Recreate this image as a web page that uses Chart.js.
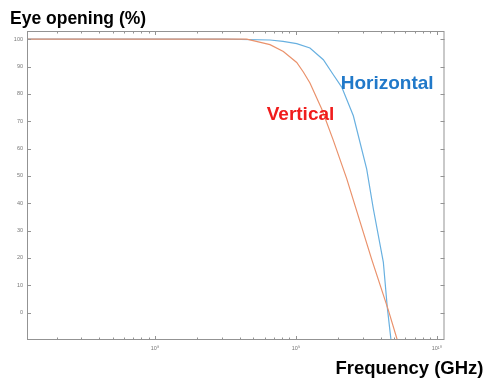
<!DOCTYPE html>
<html>
<head>
<meta charset="utf-8">
<script src="https://cdn.jsdelivr.net/npm/chart.js@4.4.1/dist/chart.umd.min.js"></script>
<style>
  body { margin: 0; background: #fff; }
  #wrap { position: relative; width: 489px; height: 381px; font-family: "Liberation Sans", Arial, sans-serif; }
  #wrap canvas { position: absolute; left: 0; top: 0; }
  .lbl { position: absolute; font-weight: bold; line-height: 1; white-space: nowrap; }
</style>
</head>
<body>
<div id="wrap">
  <canvas id="eyeChart" width="489" height="381"></canvas>
  <div class="lbl" style="left:10px; top:9.7px; font-size:17.5px; color:#000;">Eye opening (%)</div>
  <div class="lbl" style="right:5.5px; top:358.6px; font-size:18.5px; color:#000;">Frequency (GHz)</div>
  <div class="lbl" style="left:340.7px; top:72.8px; font-size:19px; color:#2179c9;">Horizontal</div>
  <div class="lbl" style="left:266.7px; top:104px; font-size:19px; color:#f01c1c;">Vertical</div>
</div>
<script>
// chart data (frequency in Hz, eye opening in %)
const horizFreq = [1.233e7, 3.16e8, 6.55e8, 8.11e8, 1.014e9, 1.259e9, 1.567e9, 1.845e9, 2.116e9, 2.559e9, 3.184e9, 3.548e9, 4.178e9, 4.457e9, 4.737e9];
const horizOpen = [100, 100, 99.7, 99.2, 98.4, 96.8, 92.5, 87, 82.5, 72, 52.5, 38, 18.5, 2, -10];

const vertFreq = [1.233e7, 4.48e8, 6.55e8, 8.15e8, 1.014e9, 1.13e9, 1.259e9, 1.526e9, 1.845e9, 2.296e9, 3.455e9, 4.53e9, 5.25e9];
const vertOpen = [100, 100, 98, 95.5, 91.5, 88, 84, 74.5, 63, 49, 19.5, 1, -10];

const yTicks = [0, 10, 20, 30, 40, 50, 60, 70, 80, 90, 100];
const xMajorTicks = [1e8, 1e9, 1e10];
const xTickLabels = ['10\u2078', '10\u2079', '10\u00b9\u2070'];

const xRange = [1.233e7, 1.136e10];
const yRange = [-10, 103];

function toPoints(xs, ys) {
    return xs.map((x, i) => ({ x: x, y: ys[i] }));
}

// minor ticks for log axis: 2..9 x 10^k inside the range
function minorTicks() {
    const out = [];
    for (let k = 7; k <= 10; k++) {
        for (let m = 2; m <= 9; m++) {
            const v = m * Math.pow(10, k);
            if (v > xRange[0] && v < xRange[1]) out.push(v);
        }
    }
    return out;
}

// box around the plot with inward ticks on all four sides
const boxPlugin = {
    id: 'boxTicks',
    afterDatasetsDraw(chart) {
        const ctx = chart.ctx;
        const a = chart.chartArea;
        const xs = chart.scales.x;
        const ys = chart.scales.y;
        ctx.save();
        ctx.strokeStyle = '#939393';
        ctx.lineWidth = 1;
        ctx.strokeRect(a.left + 0.5, a.top + 0.5, a.right - a.left - 1, a.bottom - a.top - 1);

        ctx.beginPath();
        yTicks.forEach(v => {
            const py = Math.round(ys.getPixelForValue(v)) + 0.5;
            ctx.moveTo(a.left, py); ctx.lineTo(a.left + 4, py);
            ctx.moveTo(a.right, py); ctx.lineTo(a.right - 4, py);
        });
        xMajorTicks.forEach(v => {
            const px = Math.round(xs.getPixelForValue(v)) + 0.5;
            ctx.moveTo(px, a.bottom); ctx.lineTo(px, a.bottom - 4);
            ctx.moveTo(px, a.top); ctx.lineTo(px, a.top + 4);
        });
        minorTicks().forEach(v => {
            const px = Math.round(xs.getPixelForValue(v)) + 0.5;
            ctx.moveTo(px, a.bottom); ctx.lineTo(px, a.bottom - 2.5);
            ctx.moveTo(px, a.top); ctx.lineTo(px, a.top + 2.5);
        });
        ctx.stroke();
        ctx.restore();
    }
};

const ctx = document.getElementById('eyeChart').getContext('2d');
const eyeChart = new Chart(ctx, {
    type: 'line',
    data: {
        datasets: [{
            label: 'Horizontal',
            data: toPoints(horizFreq, horizOpen),
            borderColor: 'rgb(104, 176, 224)',
            borderWidth: 1.2,
            pointRadius: 0,
            tension: 0,
            order: 2
        }, {
            label: 'Vertical',
            data: toPoints(vertFreq, vertOpen),
            borderColor: 'rgb(234, 146, 108)',
            borderWidth: 1.2,
            pointRadius: 0,
            tension: 0,
            order: 1
        }]
    },
    options: {
        responsive: false,
        animation: false,
        layout: { padding: { left: 0, top: 31, right: 44.5, bottom: 0 } },
        plugins: { legend: { display: false }, tooltip: { enabled: false } },
        scales: {
            x: {
                type: 'logarithmic',
                min: xRange[0],
                max: xRange[1],
                grid: { display: false, drawTicks: false },
                border: { display: false },
                afterBuildTicks: s => { s.ticks = xMajorTicks.map(v => ({ value: v })); },
                afterFit: s => { s.height = 41; },
                ticks: {
                    autoSkip: false,
                    maxRotation: 0,
                    padding: 5,
                    color: '#777',
                    font: { size: 5.5, family: 'Liberation Sans, Arial, sans-serif' },
                    callback: v => xTickLabels[xMajorTicks.indexOf(v)]
                }
            },
            y: {
                min: yRange[0],
                max: yRange[1],
                grid: { display: false, drawTicks: false },
                border: { display: false },
                afterBuildTicks: s => { s.ticks = yTicks.map(v => ({ value: v })); },
                afterFit: s => { s.width = 27; },
                ticks: {
                    padding: 4,
                    color: '#777',
                    font: { size: 5.5, family: 'Liberation Sans, Arial, sans-serif' }
                }
            }
        }
    },
    plugins: [boxPlugin]
});
</script>
</body>
</html>
